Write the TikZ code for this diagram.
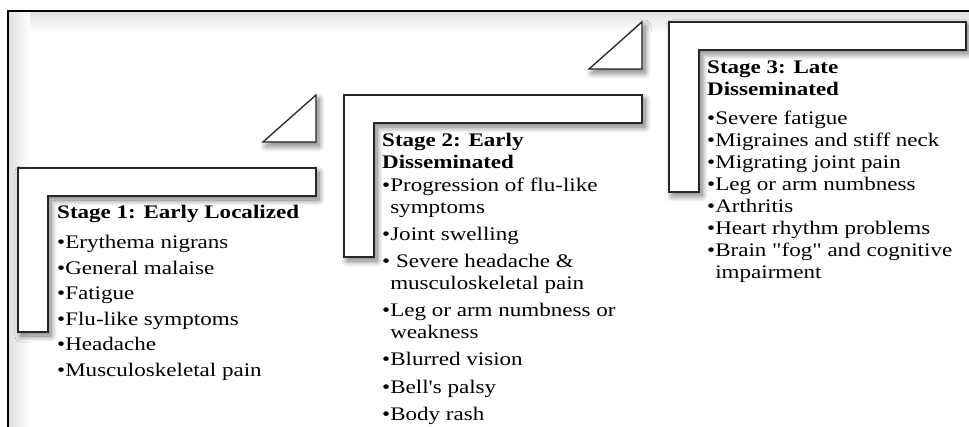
\documentclass[tikz,border=0pt]{standalone}
\usepackage{fontspec}
\setmainfont{Liberation Serif}[FakeStretch=1.2, Ligatures=TeXOff]
\usepackage{tikz}
\usetikzlibrary{positioning}
\usetikzlibrary{calc}
\usetikzlibrary{shadows.blur}

\tikzset{
  corner/.style={draw=black!85, line width=1.3pt, fill=white,
    blur shadow={shadow xshift=3pt, shadow yshift=-4pt,
      shadow blur radius=6pt, shadow blur steps=12, shadow opacity=55}},
  stagehead/.style={anchor=base west, inner sep=0pt,
    font=\fontsize{19.2}{22}\selectfont\bfseries},
  item/.style={anchor=base west, inner sep=0pt,
    font=\fontsize{19.2}{22}\selectfont}
}

\begin{document}
\begin{tikzpicture}[x=1pt, y=-1pt]
		\useasboundingbox (0,0) rectangle (969,427);
		% Frame and its soft inner shadow
		\shade[top color=black!12, bottom color=white] (9,12) rectangle (969,32);
		\shade[left color=black!12, right color=white] (9,12) rectangle (30,427);
		\draw[line width=1.5pt] (8,427) -- (8,11) -- (969,11);

		% Define the top left corners of the three steps
		\coordinate (s1) at (18,168);
		\coordinate (s2) at (344,95);
		\coordinate (s3) at (669,22);

		% Draw the steps
		\foreach \step/\w/\h in {s1/298/164, s2/298/162, s3/297/170}
		\draw[corner] (\step) -- ++(\w,0) -- ++(0,28) -- ++(-\w+30,0)
		    -- ++(0,\h-28) -- ++(-30,0) -- cycle;

		% Draw the triangles between the steps
		\coordinate (t1) at (263,142);
		\coordinate (t2) at (589,69);
		\foreach \tri in {t1, t2}
		\draw[corner] (\tri) -- ++(53,0) -- ++(0,-47) -- cycle;

		% Stage 1
		\node[stagehead] (h1) at (57,219) {Stage 1: Early Localized};
		\foreach \y/\txt [count=\i] in {249/\textbullet Erythema nigrans,
		    274.5/\textbullet General malaise, 300/\textbullet Fatigue,
		    325.5/\textbullet Flu-like symptoms, 351/\textbullet Headache,
		    376.5/\textbullet Musculoskeletal pain}
		\node[item] (a\i) at (57,\y) {\txt};

		% Stage 2
		\node[stagehead] (h2a) at (382,147) {Stage 2: Early};
		\node[stagehead] (h2b) at (382,169) {Disseminated};
		\foreach \y/\txt [count=\i] in {192/\textbullet Progression of flu-like,
		    214/\hphantom{\textbullet}symptoms, 241/\textbullet Joint swelling,
		    268/\textbullet\ Severe headache \&,
		    290/\hphantom{\textbullet}musculoskeletal pain,
		    317/\textbullet Leg or arm numbness or,
		    339/\hphantom{\textbullet}weakness, 366/\textbullet Blurred vision,
		    393/\textbullet Bell's palsy, 420/\textbullet Body rash}
		\node[item] (b\i) at (382,\y) {\txt};

		% Stage 3
		\node[stagehead] (h3a) at (707,74) {Stage 3: Late};
		\node[stagehead] (h3b) at (707,96) {Disseminated};
		\foreach \y/\txt [count=\i] in {125/\textbullet Severe fatigue,
		    147/\textbullet Migraines and stiff neck,
		    169/\textbullet Migrating joint pain,
		    191/\textbullet Leg or arm numbness, 213/\textbullet Arthritis,
		    235/\textbullet Heart rhythm problems,
		    257/\textbullet Brain "fog" and cognitive,
		    279/\hphantom{\textbullet}impairment}
		\node[item] (c\i) at (707,\y) {\txt};
\end{tikzpicture}
\end{document}
